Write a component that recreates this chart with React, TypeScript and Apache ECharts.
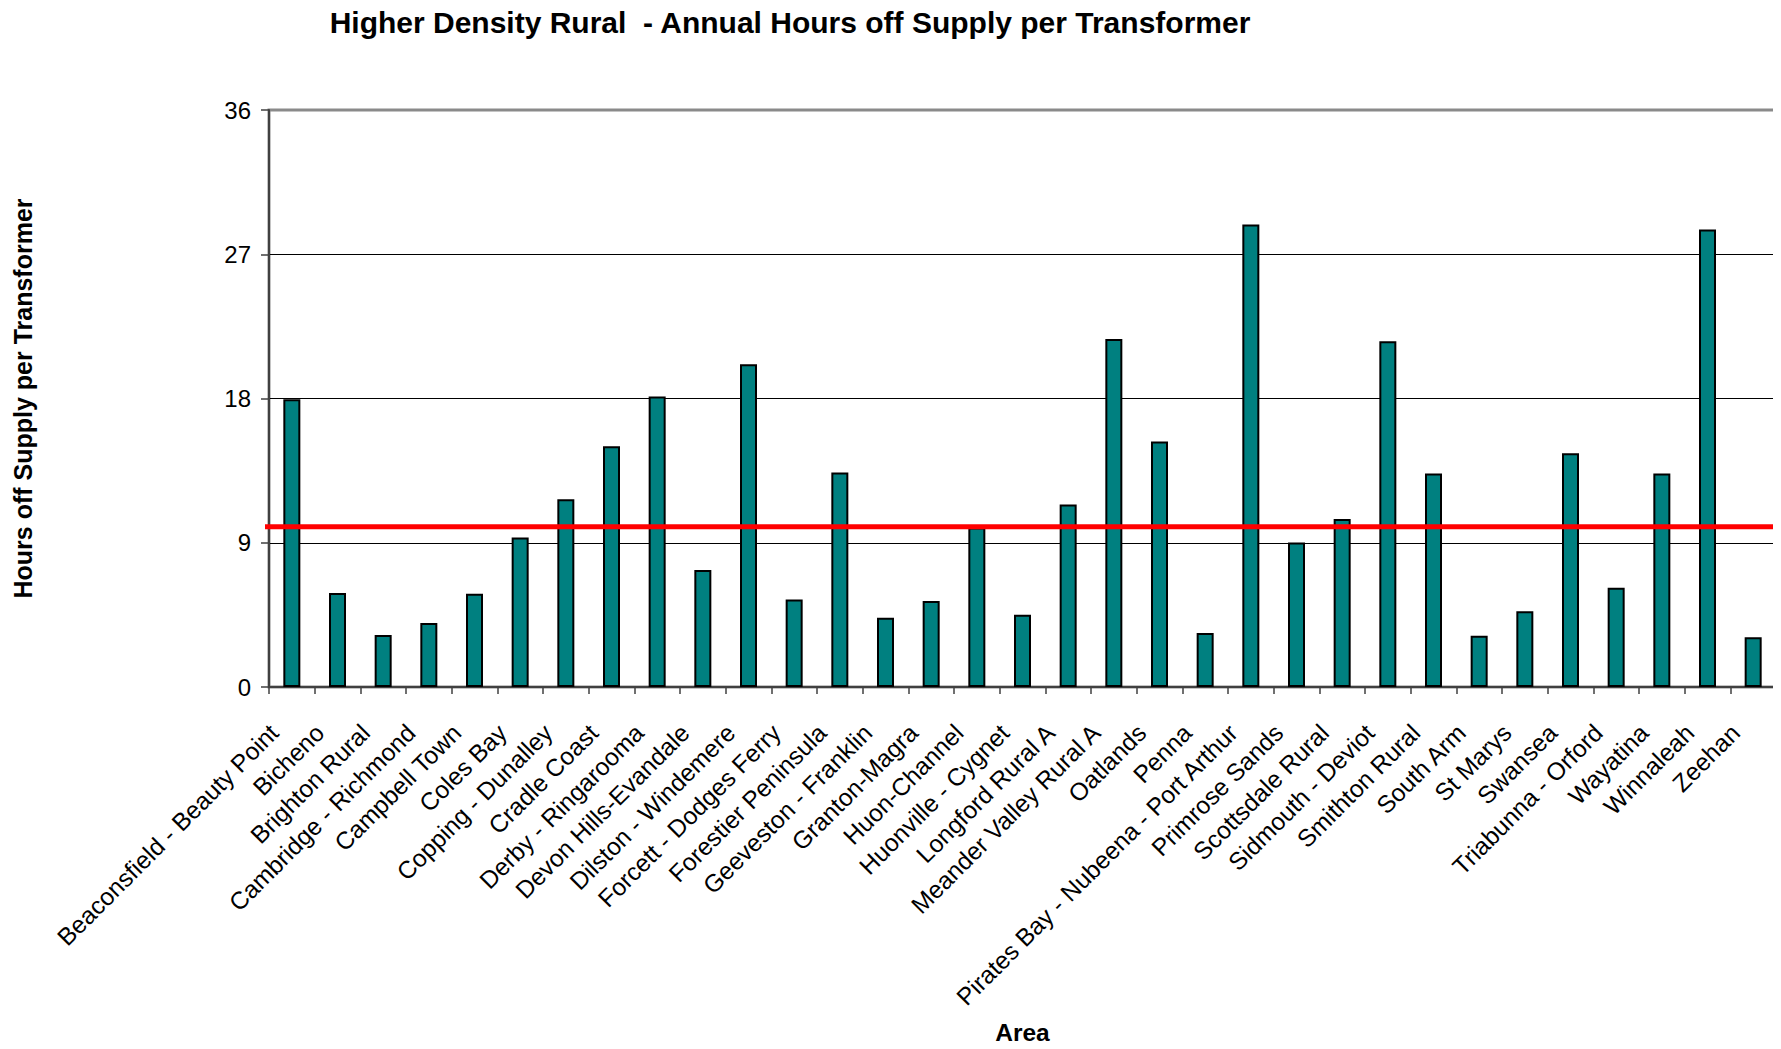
import React, { useEffect, useRef } from "react";
import * as echarts from "echarts";

const categories = [
  "Beaconsfield - Beauty Point",
  "Bicheno",
  "Brighton Rural",
  "Cambridge - Richmond",
  "Campbell Town",
  "Coles Bay",
  "Copping - Dunalley",
  "Cradle Coast",
  "Derby - Ringarooma",
  "Devon Hills-Evandale",
  "Dilston - Windemere",
  "Forcett - Dodges Ferry",
  "Forestier Peninsula",
  "Geeveston - Franklin",
  "Granton-Magra",
  "Huon-Channel",
  "Huonville - Cygnet",
  "Longford Rural A",
  "Meander Valley Rural A",
  "Oatlands",
  "Penna",
  "Pirates Bay - Nubeena - Port Arthur",
  "Primrose Sands",
  "Scottsdale Rural",
  "Sidmouth - Deviot",
  "Smithton Rural",
  "South Arm",
  "St Marys",
  "Swansea",
  "Triabunna - Orford",
  "Wayatina",
  "Winnaleah",
  "Zeehan",
];

const hours = [
  17.95, 5.87, 3.25, 4.0, 5.82, 9.32, 11.72, 15.02, 18.12, 7.3, 20.14,
  5.46, 13.39, 4.32, 5.36, 9.95, 4.51, 11.38, 21.71, 15.31, 3.37, 28.85,
  9.02, 10.48, 21.57, 13.32, 3.2, 4.73, 14.58, 6.19, 13.32, 28.55, 3.11,
];

const targetLevel = 10;
const yTicks = [0, 9, 18, 27, 36];

const titleText = "Higher Density Rural  - Annual Hours off Supply per Transformer";
const yAxisTitle = "Hours off Supply per Transformer";
const xAxisTitle = "Area";

const FONT = "'Liberation Sans', Arial, sans-serif";
const W = 1781;
const H = 1049;
const GRID_LEFT = 269;

export default function App() {
  const ref = useRef<HTMLDivElement>(null);

  useEffect(() => {
    if (!ref.current) return;
    const chart = echarts.init(ref.current, undefined, { renderer: "svg" });
    chart.setOption({
      animation: false,
      backgroundColor: "#ffffff",
      textStyle: { fontFamily: FONT },
      title: {
        text: titleText,
        left: 785,
        top: 2,
        textAlign: "center",
        textStyle: {
          fontFamily: FONT,
          fontSize: 30,
          fontWeight: "bold",
          color: "#000",
        },
      },
      grid: {
        left: GRID_LEFT,
        right: 5,
        top: 110,
        bottom: 362,
        containLabel: false,
        outerBoundsMode: "none",
        show: true,
        borderColor: "#8a8a8a",
        borderWidth: 3,
        backgroundColor: "#ffffff",
      },
      xAxis: {
        type: "category",
        data: categories,
        name: xAxisTitle,
        nameLocation: "middle",
        nameGap: 333,
        nameTextStyle: {
          fontFamily: FONT,
          fontSize: 24.5,
          fontWeight: "bold",
          color: "#000",
        },
        axisLine: { show: true, lineStyle: { color: "#404040", width: 2 } },
        axisTick: { show: true, length: 7, lineStyle: { color: "#404040", width: 1.5 } },
        axisLabel: {
          interval: 0,
          rotate: 45,
          margin: 24,
          padding: [0, 25, 0, 0],
          fontFamily: FONT,
          fontSize: 24.5,
          color: "#000",
        },
        splitLine: { show: false },
      },
      yAxis: {
        type: "value",
        min: yTicks[0],
        max: yTicks[yTicks.length - 1],
        interval: 9,
        name: yAxisTitle,
        nameLocation: "middle",
        nameGap: 234,
        nameRotate: 90,
        nameTextStyle: {
          fontFamily: FONT,
          fontSize: 25,
          fontWeight: "bold",
          color: "#000",
        },
        axisLine: { show: true, lineStyle: { color: "#404040", width: 2 } },
        axisTick: { show: true, length: 8, lineStyle: { color: "#404040", width: 1.5 } },
        axisLabel: {
          margin: 18,
          fontFamily: FONT,
          fontSize: 24,
          color: "#000",
        },
        splitLine: {
          show: true,
          showMaxLine: false,
          showMinLine: false,
          lineStyle: { color: "#000", width: 1 },
        },
      },
      series: [
        {
          type: "bar",
          data: hours,
          barWidth: 17,
          itemStyle: {
            color: "#008080",
            borderColor: "#000",
            borderWidth: 2,
          },
        },
      ],
    });

    const yLine = chart.convertToPixel({ yAxisIndex: 0 }, targetLevel) as number;
    chart.setOption({
      graphic: [
        {
          type: "line",
          z: 100,
          shape: { x1: GRID_LEFT - 4, y1: yLine, x2: W, y2: yLine },
          style: { stroke: "#ff0000", lineWidth: 5 },
        },
      ],
    });

    return () => chart.dispose();
  }, []);

  return <div ref={ref} style={{ width: W, height: H, margin: -8 }} />;
}
